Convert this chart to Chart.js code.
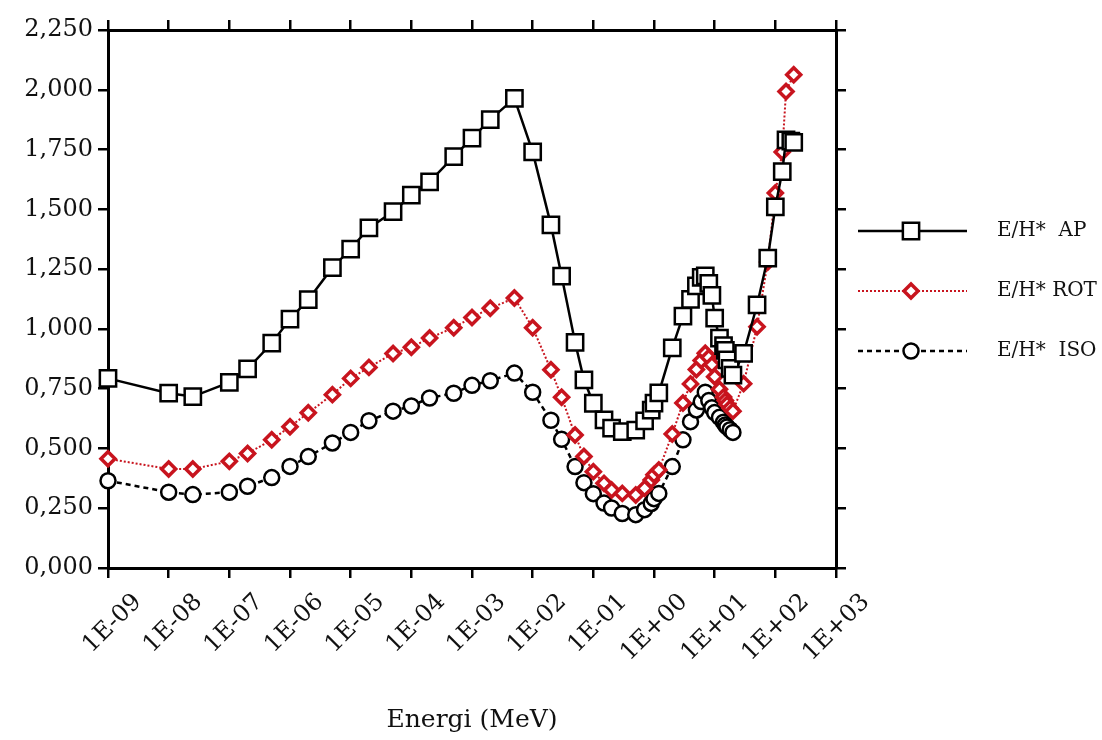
<!DOCTYPE html>
<html>
<head>
<meta charset="utf-8">
<script src="https://cdn.jsdelivr.net/npm/chart.js@4/dist/chart.umd.min.js"></script>
<style>html,body{margin:0;padding:0;background:#fff;overflow:hidden}canvas{display:block}</style>
</head>
<body>
<canvas id="c" width="1102" height="740"></canvas>
<script>
// ---- data ----
const energies = [1e-9, 1e-8, 2.5e-8, 1e-7, 2e-7, 5e-7, 1e-6, 2e-6, 5e-6, 1e-5, 2e-5, 5e-5, 1e-4, 2e-4, 5e-4, 1e-3, 2e-3, 5e-3,
  1e-2, 2e-2, 3e-2, 5e-2, 7e-2,
  0.1, 0.15, 0.2, 0.3, 0.5, 0.7, 0.9, 1.0, 1.2,
  2, 3, 4, 5, 6, 7, 8, 9, 10,
  12, 14, 15, 16, 18, 20,
  30, 50, 75, 100, 130, 150, 180, 201];

const apValues = [0.793, 0.731, 0.717, 0.776, 0.833, 0.940, 1.041, 1.122, 1.256, 1.334, 1.422, 1.490, 1.559, 1.615, 1.720, 1.798, 1.875, 1.964,
  1.740, 1.435, 1.221, 0.944, 0.787,
  0.689, 0.619, 0.585, 0.570, 0.577, 0.615, 0.660, 0.690, 0.732,
  0.921, 1.053, 1.123, 1.180, 1.215, 1.222, 1.190, 1.140, 1.045,
  0.961, 0.930, 0.910, 0.870, 0.835, 0.807,
  0.898, 1.100, 1.296, 1.510, 1.658, 1.790, 1.785, 1.780];

const rotValues = [0.457, 0.414, 0.414, 0.446, 0.479, 0.536, 0.591, 0.649, 0.725, 0.793, 0.839, 0.897, 0.923, 0.962, 1.005, 1.048, 1.086, 1.129,
  1.005, 0.829, 0.714, 0.556, 0.466,
  0.403, 0.354, 0.326, 0.312, 0.305, 0.333, 0.368, 0.390, 0.410,
  0.560, 0.690, 0.770, 0.830, 0.868, 0.898, 0.880, 0.850, 0.800,
  0.748, 0.715, 0.700, 0.685, 0.668, 0.656,
  0.771, 1.009, 1.280, 1.568, 1.740, 1.993, null, 2.063];

const isoValues = [0.365, 0.317, 0.307, 0.317, 0.342, 0.378, 0.425, 0.466, 0.523, 0.567, 0.616, 0.656, 0.678, 0.711, 0.731, 0.764, 0.783, 0.815,
  0.735, 0.618, 0.538, 0.424, 0.357,
  0.311, 0.272, 0.251, 0.228, 0.223, 0.244, 0.270, 0.290, 0.312,
  0.424, 0.536, 0.612, 0.661, 0.696, 0.735, 0.700, 0.670, 0.650,
  0.630, 0.610, 0.598, 0.590, 0.578, 0.567,
  null, null, null, null, null, null, null, null];

const seriesLabels = ['E/H*  AP', 'E/H* ROT', 'E/H*  ISO'];

const xTickValues = [1e-9, 1e-8, 1e-7, 1e-6, 1e-5, 1e-4, 1e-3, 1e-2, 1e-1, 1e0, 1e1, 1e2, 1e3];
const xTickLabels = ['1E-09', '1E-08', '1E-07', '1E-06', '1E-05', '1E-04', '1E-03', '1E-02', '1E-01', '1E+00', '1E+01', '1E+02', '1E+03'];
const yTickValues = [0, 0.25, 0.5, 0.75, 1.0, 1.25, 1.5, 1.75, 2.0, 2.25];
const yTickLabels = ['0,000', '0,250', '0,500', '0,750', '1,000', '1,250', '1,500', '1,750', '2,000', '2,250'];
const xTitle = 'Energi (MeV)';

// ---- helpers ----
function toPoints(vals) {
  return energies.map((e, i) => ({ x: e, y: vals[i] })).filter(p => p.y !== null);
}

const RED = '#c8141e';
const INK = '#111';
const SERIF = 'DejaVu Serif';

const bgPlugin = {
  id: 'bg',
  beforeDraw(chart) {
    const ctx = chart.ctx;
    ctx.save();
    ctx.fillStyle = '#fff';
    ctx.fillRect(0, 0, chart.width, chart.height);
    ctx.restore();
  }
};

const legendPlugin = {
  id: 'sideLegend',
  afterDraw(chart) {
    const ctx = chart.ctx;
    const x0 = 858, x1 = 967, xm = 911, xt = 997, y0 = 231, dy = 60;
    chart.data.datasets.forEach((ds, i) => {
      const y = y0 + i * dy;
      ctx.save();
      ctx.strokeStyle = ds.borderColor;
      ctx.lineWidth = ds.borderWidth;
      ctx.setLineDash(ds.borderDash || []);
      ctx.beginPath();
      ctx.moveTo(x0, y);
      ctx.lineTo(x1, y);
      ctx.stroke();
      ctx.setLineDash([]);
      ctx.fillStyle = ds.pointBackgroundColor;
      ctx.strokeStyle = ds.pointBorderColor;
      ctx.lineWidth = ds.pointBorderWidth;
      Chart.helpers.drawPoint(ctx, { pointStyle: ds.pointStyle, radius: ds.pointRadius, borderWidth: ds.pointBorderWidth, rotation: 0 }, xm, y);
      ctx.fillStyle = INK;
      ctx.font = '20px "' + SERIF + '"';
      ctx.textBaseline = 'middle';
      ctx.textAlign = 'left';
      ctx.fillText(ds.label, xt, y);
      ctx.restore();
    });
  }
};

const frameGrid = { display: true, drawOnChartArea: false, drawTicks: true, tickLength: 10, color: '#000', lineWidth: 2.5 };
const frameBorder = { display: true, color: '#000', width: 3 };
const setXTicks = s => { s.ticks = xTickValues.map(v => ({ value: v })); };
const setYTicks = s => { s.ticks = yTickValues.map(v => ({ value: v })); };

new Chart(document.getElementById('c'), {
  type: 'scatter',
  data: {
    datasets: [
      { label: seriesLabels[0], data: toPoints(apValues), showLine: true, clip: false,
        borderColor: '#000', borderWidth: 2.5,
        pointStyle: 'rect', pointRadius: 11.5, pointBorderWidth: 2.5,
        pointBackgroundColor: '#fff', pointBorderColor: '#000' },
      { label: seriesLabels[1], data: toPoints(rotValues), showLine: true, clip: false,
        borderColor: RED, borderWidth: 2, borderDash: [2, 2],
        pointStyle: 'rectRot', pointRadius: 7, pointBorderWidth: 3.5,
        pointBackgroundColor: '#fff', pointBorderColor: RED },
      { label: seriesLabels[2], data: toPoints(isoValues), showLine: true, clip: false,
        borderColor: '#000', borderWidth: 2.5, borderDash: [5, 4],
        pointStyle: 'circle', pointRadius: 7.5, pointBorderWidth: 2.5,
        pointBackgroundColor: '#fff', pointBorderColor: '#000' }
    ]
  },
  options: {
    responsive: false,
    animation: false,
    devicePixelRatio: 1,
    layout: { padding: { left: 0, right: 256, top: 20, bottom: 0 } },
    plugins: { legend: { display: false }, tooltip: { enabled: false } },
    scales: {
      x: {
        type: 'logarithmic', position: 'bottom', min: 1e-9, max: 1e3,
        afterBuildTicks: setXTicks,
        afterFit: s => { s.height = 172; },
        grid: frameGrid, border: frameBorder,
        ticks: { autoSkip: false, maxRotation: 45, minRotation: 45, padding: 10, labelOffset: 30, color: INK,
                 font: { family: SERIF, size: 24 }, callback: (v, i) => xTickLabels[i] },
        title: { display: true, text: xTitle, color: INK, font: { family: SERIF, size: 25 }, padding: { top: 0, bottom: 5 } }
      },
      x2: {
        type: 'logarithmic', position: 'top', min: 1e-9, max: 1e3,
        afterBuildTicks: setXTicks,
        afterFit: s => { s.height = 10; },
        grid: frameGrid, border: frameBorder,
        ticks: { display: false }
      },
      y: {
        type: 'linear', position: 'left', min: 0, max: 2.25,
        afterBuildTicks: setYTicks,
        afterFit: s => { s.width = 108; },
        grid: frameGrid, border: frameBorder,
        ticks: { padding: 5, color: INK, font: { family: SERIF, size: 24 }, callback: (v, i) => yTickLabels[i] }
      },
      y2: {
        type: 'linear', position: 'right', min: 0, max: 2.25,
        afterBuildTicks: setYTicks,
        afterFit: s => { s.width = 10; },
        grid: frameGrid, border: frameBorder,
        ticks: { display: false }
      }
    }
  },
  plugins: [bgPlugin, legendPlugin]
});
</script>
</body>
</html>
